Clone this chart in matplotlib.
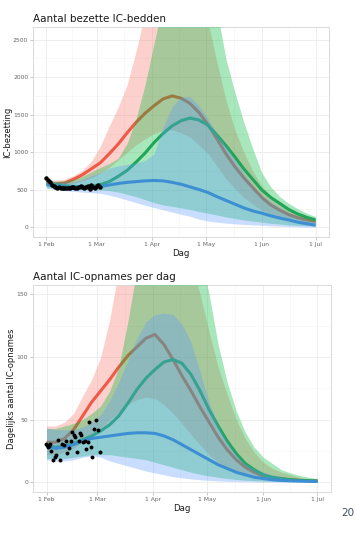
import matplotlib
matplotlib.use("Agg")
import matplotlib.pyplot as plt
import numpy as np

# days since 1 Feb, 5-day grid
DAYS = np.arange(0, 151, 5)
MONTH_DAYS = [0, 28, 59, 89, 120, 150]
MONTH_LABELS = ["1 Feb", "1 Mar", "1 Apr", "1 May", "1 Jun", "1 Jul"]

# ---- top panel: IC-bezetting
BED_RED = [600, 580, 590, 640, 700, 780, 860, 980, 1110, 1260, 1400, 1520, 1620, 1710, 1750, 1720,
           1650, 1530, 1370, 1180, 980, 810, 660, 530, 400, 300, 230, 170, 130, 100, 80]
BED_RED_LO = [560, 555, 565, 590, 620, 660, 720, 800, 900, 1000, 1100, 1180, 1250, 1290, 1300, 1260,
              1200, 1100, 980, 820, 650, 520, 400, 310, 230, 180, 140, 110, 85, 65, 50]
BED_RED_HI = [640, 630, 640, 690, 760, 880, 1080, 1350, 1600, 1900, 2350, 2850, 3300, 3700, 3950, 4000,
              3800, 3400, 2750, 2200, 1700, 1300, 1000, 750, 550, 420, 320, 230, 170, 130, 100]
BED_GREEN = [590, 570, 555, 545, 545, 550, 570, 610, 680, 760, 870, 990, 1130, 1250, 1350, 1420,
             1455, 1430, 1360, 1230, 1090, 940, 780, 640, 500, 400, 320, 240, 180, 135, 100]
BED_GREEN_LO = [530, 520, 510, 505, 505, 505, 500, 490, 470, 440, 410, 370, 330, 300, 280, 260,
                240, 210, 190, 165, 140, 120, 100, 85, 70, 55, 45, 35, 28, 22, 18]
BED_GREEN_HI = [620, 615, 620, 640, 680, 740, 800, 850, 920, 1120, 1450, 1900, 2450, 3000, 3500, 3900,
                4000, 3800, 3300, 2900, 2250, 1800, 1400, 1050, 730, 540, 410, 320, 250, 190, 145]
BED_BLUE = [570, 550, 540, 535, 535, 538, 545, 565, 585, 600, 610, 620, 625, 620, 600, 575,
            540, 505, 465, 410, 360, 310, 260, 220, 190, 155, 125, 100, 70, 50, 30]
BED_BLUE_LO = [520, 505, 490, 480, 470, 462, 455, 430, 400, 365, 330, 295, 265, 235, 205, 175,
               150, 110, 85, 70, 58, 48, 40, 34, 28, 22, 17, 13, 10, 7, 5]
BED_BLUE_HI = [620, 605, 600, 610, 640, 690, 730, 790, 820, 840, 860, 890, 980, 1330, 1600, 1740,
               1740, 1620, 1450, 1250, 1080, 900, 720, 560, 430, 340, 265, 205, 150, 110, 75]
BED_OBS_DAY = np.arange(0, 31)
BED_OBS = [655, 630, 600, 570, 545, 535, 530, 532, 528, 530, 525, 522, 528, 530, 535, 540,
           530, 520, 540, 553, 535, 522, 540, 545, 512, 560, 540, 530, 550, 560, 540]

# ---- bottom panel: dagelijkse IC-opnames
ADM_RED = [32, 32, 35, 42, 53, 64, 73, 82, 92, 101, 108, 115, 118, 110, 98, 85,
           73, 60, 48, 36, 26, 18, 12, 8, 5, 3.5, 2.5, 2, 1.5, 1.2, 1]
ADM_RED_LO = [22, 22, 24, 27, 32, 37, 43, 50, 56, 62, 66, 68, 67, 62, 55, 47,
              38, 30, 22, 16, 11, 8, 5, 3.5, 2.5, 1.8, 1.3, 1, 0.8, 0.6, 0.5]
ADM_RED_HI = [45, 45, 48, 55, 69, 82, 100, 130, 170, 200, 225, 240, 245, 240, 225, 200,
              175, 150, 120, 92, 70, 50, 35, 24, 16, 11, 8, 6, 4, 3, 2]
ADM_GREEN = [29, 28, 29, 31, 34, 37, 41, 46, 53, 63, 74, 83, 90, 96, 98, 95,
             86, 73, 58, 45, 33, 23, 15, 10, 6, 4, 3, 2, 1.5, 1.2, 1]
ADM_GREEN_LO = [19, 19, 19, 20, 21, 22, 22, 22, 21, 20, 19, 18, 16, 14, 12, 10,
                8, 6.5, 5, 4, 3, 2.3, 1.7, 1.3, 1, 0.8, 0.6, 0.5, 0.4, 0.3, 0.3]
ADM_GREEN_HI = [43, 43, 45, 47, 50, 55, 61, 73, 92, 128, 170, 210, 240, 260, 265, 250,
                220, 185, 150, 110, 80, 57, 40, 28, 20, 15, 10, 7.5, 5.5, 4, 3]
ADM_BLUE = [29, 27, 28, 30, 33, 35, 36, 37, 38, 39, 39.5, 39.5, 39, 37, 34, 30,
            26, 22, 18, 14, 11, 8, 6, 4, 3, 2, 1.5, 1.2, 1, 0.8, 0.7]
ADM_BLUE_LO = [18, 17, 17, 18, 20, 21, 20, 17, 15, 13, 11, 9, 7.5, 6, 4.5, 3.5,
               2.7, 2, 1.5, 1.1, 0.8, 0.6, 0.5, 0.4, 0.3, 0.2, 0.2, 0.1, 0.1, 0.1, 0.1]
ADM_BLUE_HI = [43, 42, 42, 42, 44, 48, 54, 65, 80, 97, 115, 128, 134, 135, 134, 126,
               112, 88, 64, 45, 32, 22, 15, 11, 8, 6, 4.5, 3, 2.5, 2, 1.5]
ADM_OBS_DAY = [-0.5, 0.4, 1.2, 1.8, 0.9, 2.7, 3.7, 4.6, 5.5, 6.6, 7.5, 8.6, 9.6, 10.5, 11.6, 12.5,
               13.6, 14.3, 15.1, 15.8, 16.6, 17.7, 18.4, 19.3, 20.4, 21.4, 22.1, 22.7, 23.6, 24.5,
               25.4, 26.5, 27.6, 28.7, 29.8]
ADM_OBS = [30.5, 29.7, 28.6, 30.3, 27.8, 25.2, 18.0, 20.4, 21.7, 33.4, 18.0, 30.3, 29.7, 33.1, 23.3, 27.0,
           33.1, 40.3, 37.9, 35.8, 24.1, 33.1, 39.3, 37.6, 31.8, 33.1, 26.5, 32.4, 48.3, 28.4,
           19.9, 42.5, 49.9, 41.7, 23.9]

C = {"red": ("#F8766D", "#EE5A45"), "green": ("#00BA38", "#1FA65A"),
     "blue": ("#619CFF", "#3D8FD3")}


def panel(ax, series, obs_day, obs, ymax, yticks, title, ylabel, obs_line, label_x):
    # each ribbon covers the lines of the scenarios drawn before it
    for i, (key, (lo, mid, hi)) in enumerate(series):
        fill, line = C[key]
        ax.fill_between(DAYS, lo, hi, color=fill, alpha=0.34, lw=0, zorder=2 + 2 * i)
        ax.plot(DAYS, mid, color=line, lw=2.2, solid_capstyle="butt", zorder=3 + 2 * i)
    if obs_line:
        ax.plot(obs_day, obs, color="k", lw=1.6, marker="o", ms=2.2, zorder=10)
    else:
        ax.scatter(obs_day, obs, s=8, color="k", zorder=10, lw=0)
    pad = 0.05 * ymax
    ax.set_ylim(-pad, ymax + pad)
    ax.set_xlim(-7.5, 157.5)
    ax.set_yticks(yticks)
    ax.set_yticks([(a + b) / 2 for a, b in zip(yticks[:-1], yticks[1:])], minor=True)
    ax.set_xticks(MONTH_DAYS, MONTH_LABELS)
    ax.set_xticks([(a + b) / 2 for a, b in zip(MONTH_DAYS[:-1], MONTH_DAYS[1:])], minor=True)
    ax.grid(which="major", color="#EBEBEB", lw=0.6, zorder=0)
    ax.grid(which="minor", color="#F3F3F3", lw=0.4, zorder=0)
    ax.set_axisbelow(True)
    for s in ax.spines.values():
        s.set_color("#D5D5D5")
        s.set_linewidth(0.6)
    ax.tick_params(which="major", length=2, width=0.5, color="#B3B3B3",
                   labelsize=4.3, labelcolor="#666666", pad=1.5)
    ax.tick_params(which="minor", length=0)
    ax.set_title(title, loc="left", fontsize=7.5, color="#1A1A1A", pad=3.5)
    ax.set_xlabel("Dag", fontsize=6.2, color="#1A1A1A", labelpad=1.5)
    ax.set_ylabel(ylabel, fontsize=6, color="#1A1A1A")
    ax.yaxis.set_label_coords(label_x, 0.5)


fig = plt.figure(figsize=(3.61, 5.38), dpi=100)
ax1 = fig.add_axes([0.0914, 0.5595, 0.820, 0.3903])
ax2 = fig.add_axes([0.0914, 0.0861, 0.8255, 0.3842])

panel(ax1, [("red", (BED_RED_LO, BED_RED, BED_RED_HI)),
            ("green", (BED_GREEN_LO, BED_GREEN, BED_GREEN_HI)),
            ("blue", (BED_BLUE_LO, BED_BLUE, BED_BLUE_HI))],
      BED_OBS_DAY, BED_OBS, 2540, [0, 500, 1000, 1500, 2000, 2500],
      "Aantal bezette IC-bedden", "IC-bezetting", True, -0.072)
panel(ax2, [("red", (ADM_RED_LO, ADM_RED, ADM_RED_HI)),
            ("green", (ADM_GREEN_LO, ADM_GREEN, ADM_GREEN_HI)),
            ("blue", (ADM_BLUE_LO, ADM_BLUE, ADM_BLUE_HI))],
      ADM_OBS_DAY, ADM_OBS, 150, [0, 50, 100, 150],
      "Aantal IC-opnames per dag", "Dagelijks aantal IC-opnames", False, -0.058)

fig.text(0.963, 0.046, "20", fontsize=7.5, color="#3E5068", ha="center", va="center")

fig.savefig("out.png", dpi=100)
